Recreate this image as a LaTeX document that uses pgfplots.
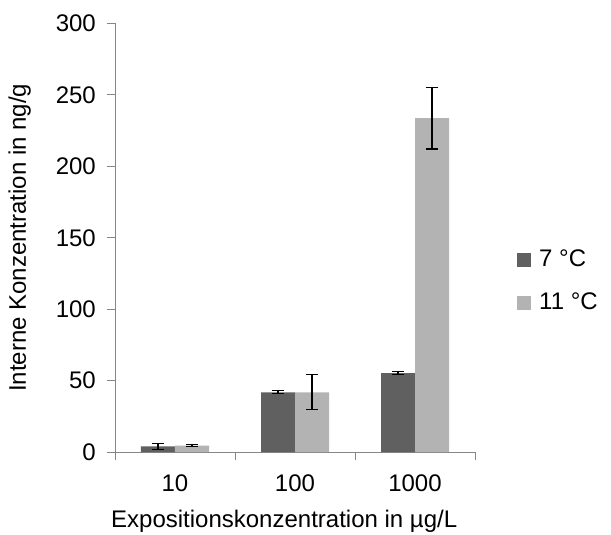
\documentclass[border=0pt]{standalone}
\usepackage{fontspec}
\setmainfont{Liberation Sans}
\usepackage{pgfplots}
\pgfplotsset{compat=1.18}
\definecolor{darkbar}{RGB}{96,96,96}
\definecolor{lightbar}{RGB}{179,179,179}
\definecolor{axisgray}{RGB}{134,134,134}

\begin{document}
\fontsize{24bp}{28bp}\selectfont
\begin{tikzpicture}
\path[use as bounding box] (-115bp,-83bp) rectangle (496bp,452bp);
\begin{axis}[
  at={(0,0)}, anchor=south west,
  scale only axis,
  width=360bp, height=428.5bp,
  ybar=0pt,
  bar width=34bp,
  xmin=-0.5, xmax=2.5,
  ymin=0, ymax=300,
  ytick={0,50,...,300},
  xtick={-0.5,0.5,1.5,2.5},
  x tick label as interval,
  xticklabels={10,100,1000},
  axis x line*=bottom,
  axis y line*=left,
  axis line style={draw=axisgray, line width=1pt},
  tick style={draw=axisgray, line width=1pt},
  tick align=outside,
  major tick length=8bp,
  tick label style={font=\fontsize{24bp}{28bp}\selectfont},
  /pgf/number format/assume math mode=true,
  yticklabel style={xshift=-3bp},
  xticklabel style={yshift=-7bp},
  xlabel={Expositionskonzentration in µg/L},
  ylabel={Interne Konzentration in ng/g},
  label style={font=\fontsize{24bp}{28bp}\selectfont},
  xlabel style={at={(axis description cs:0.47,0)}, anchor=north, yshift=-50bp},
  ylabel style={at={(axis description cs:0,0.5)}, anchor=south, yshift=76bp},
  legend style={at={(1,0.398)}, anchor=west, xshift=42bp, draw=none, fill=none,
    font=\fontsize{24bp}{28bp}\selectfont, row sep=19bp, inner sep=0pt,
    /tikz/every odd column/.append style={column sep=6bp},
    /tikz/every even column/.append style={column sep=0pt}},
  legend cell align=left,
  legend image code/.code={\fill[#1] (0bp,-7bp) rectangle (14bp,7bp);},
  error bars/y dir=both,
  error bars/y explicit,
  error bars/error mark options={rotate=90, mark size=6bp, line width=1.2pt, black},
  error bars/error bar style={line width=1.2pt, black},
]
\addplot[fill=darkbar, draw=none]
  coordinates {(0,4) +- (0,2) (1,41.8) +- (0,1) (2,55.3) +- (0,1)};
\addplot[fill=lightbar, draw=none]
  coordinates {(0,4.5) +- (0,0.5) (1,41.8) +- (0,12.3) (2,233.7) +- (0,21.5)};
\legend{7 °C, 11 °C}
\end{axis}
\end{tikzpicture}
\end{document}
